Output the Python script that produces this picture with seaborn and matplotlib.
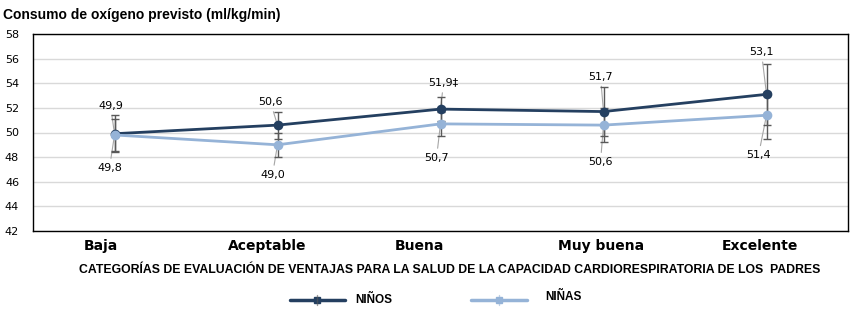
import matplotlib
matplotlib.use("Agg")
import matplotlib.pyplot as plt
import matplotlib.transforms as mtransforms
import seaborn as sns
import pandas as pd
import numpy as np

categorias = ["Baja", "Aceptable", "Buena", "Muy buena", "Excelente"]
ninos = [49.9, 50.6, 51.9, 51.7, 53.1]
ninas = [49.8, 49.0, 50.7, 50.6, 51.4]
ninos_err = [1.5, 1.1, 1.0, 2.0, 2.5]
ninas_err = [1.3, 1.0, 1.0, 1.4, 1.9]
ninos_txt = ["49,9", "50,6", "51,9‡", "51,7", "53,1"]
ninas_txt = ["49,8", "49,0", "50,7", "50,6", "51,4"]
y_ticks = [42, 44, 46, 48, 50, 52, 54, 56, 58]

# label offsets from each point, in pixels
off_ninos = [(-4, 28), (-7, 23), (3, 26), (-3, 35), (-5, 42)]
off_ninas = [(-5, -33), (-5, -30), (-4, -34), (-3, -37), (-8, -40)]
# horizontal nudge of the category names, in pixels
cat_shift = [-14, -10, -21, -2, -7]

sns.set_theme(style="white")
plt.rcParams["font.family"] = ["DejaVu Sans"]
plt.rcParams["text.color"] = "black"
plt.rcParams["xtick.color"] = "black"
plt.rcParams["ytick.color"] = "black"

c_ninos = "#243F60"
c_ninas = "#95B3D7"
c_err = "#595959"

df = pd.DataFrame({
    "pos": list(range(len(categorias))) * 2,
    "valor": ninos + ninas,
    "grupo": ["NIÑOS"] * len(categorias) + ["NIÑAS"] * len(categorias),
})

fig = plt.figure(figsize=(8.56, 3.31), dpi=100)
ax = fig.add_axes([33 / 856, 1 - 231 / 331, (848 - 33) / 856, (231 - 34) / 331])

sns.lineplot(data=df, x="pos", y="valor", hue="grupo",
             palette={"NIÑOS": c_ninos, "NIÑAS": c_ninas},
             hue_order=["NIÑOS", "NIÑAS"], marker="o", markersize=7,
             markeredgewidth=0, linewidth=2, legend=False, ax=ax, zorder=3)

x = np.arange(len(categorias))
ax.errorbar(x, ninos, yerr=ninos_err, fmt="none", ecolor=c_err, elinewidth=1,
            capsize=3, capthick=1, zorder=2)
ax.errorbar(x, ninas, yerr=ninas_err, fmt="none", ecolor=c_err, elinewidth=1,
            capsize=3, capthick=1, zorder=2)

# value labels with thin leader lines
leader = dict(arrowstyle="-", color="#A6A6A6", lw=0.8, shrinkA=1, shrinkB=0)
for i in range(len(categorias)):
    ax.annotate(ninos_txt[i], xy=(i, ninos[i]), xytext=off_ninos[i],
                textcoords="offset pixels", ha="center", va="center",
                fontsize=8, arrowprops=leader, zorder=1)
    ax.annotate(ninas_txt[i], xy=(i, ninas[i]), xytext=off_ninas[i],
                textcoords="offset pixels", ha="center", va="center",
                fontsize=8, arrowprops=leader, zorder=1)

ax.set_xlim(-0.5, len(categorias) - 0.5)
ax.set_ylim(42, 58)
ax.set_yticks(y_ticks)
ax.set_yticklabels([str(v) for v in y_ticks], fontsize=8)
ax.yaxis.grid(True, color="#D9D9D9", lw=1)
ax.set_axisbelow(True)
ax.set_xticks(np.arange(len(categorias) + 1) - 0.5, minor=True)
ax.set_xticks(x)
ax.set_xticklabels([])
ax.tick_params(axis="x", which="major", length=0)
ax.tick_params(axis="x", which="minor", length=4, direction="in", color="black", width=0.8)
ax.tick_params(axis="y", length=0, pad=10)
ax.set_xlabel("")
ax.set_ylabel("")
for s in ax.spines.values():
    s.set_color("black")
    s.set_linewidth(1)

# category names below the axis
base = ax.get_xaxis_transform()
for i, (name, dx) in enumerate(zip(categorias, cat_shift)):
    tr = base + mtransforms.ScaledTranslation(dx / 100, -15 / 100, fig.dpi_scale_trans)
    ax.text(i, 0, name, transform=tr, ha="center", va="center",
            fontsize=10, fontweight="bold")

fig.text(3 / 856, 1 - 15 / 331, "Consumo de oxígeno previsto (ml/kg/min)",
         fontsize=10, fontweight="bold", va="center", ha="left",
         family=["Liberation Sans", "DejaVu Sans"])
fig.text(450 / 856, 1 - 270 / 331,
         "CATEGORÍAS DE EVALUACIÓN DE VENTAJAS PARA LA SALUD DE LA CAPACIDAD CARDIORESPIRATORIA DE LOS  PADRES",
         fontsize=8.8, fontweight="bold", va="center", ha="center",
         family=["Liberation Sans", "DejaVu Sans"])

# legend
lx = fig.add_axes([0, 0, 1, 1], facecolor="none")
lx.set_xlim(0, 856)
lx.set_ylim(331, 0)
lx.axis("off")
lx.plot([290, 345], [300, 300], color=c_ninos, lw=2.5)
lx.plot([317], [300], marker="s", color=c_ninos, markersize=5)
lx.plot([317, 317], [295, 305], color=c_err, lw=1, alpha=0.6)
lx.text(355, 300, "NIÑOS", fontsize=8.5, fontweight="bold", va="center",
        family=["Liberation Sans", "DejaVu Sans"])
lx.plot([471, 527], [300, 300], color=c_ninas, lw=2.5)
lx.plot([499], [300], marker="s", color=c_ninas, markersize=5)
lx.plot([499, 499], [295, 305], color=c_ninas, lw=1, alpha=0.6)
lx.text(545, 297, "NIÑAS", fontsize=8.5, fontweight="bold", va="center",
        family=["Liberation Sans", "DejaVu Sans"])

fig.savefig("out.png", dpi=100)
